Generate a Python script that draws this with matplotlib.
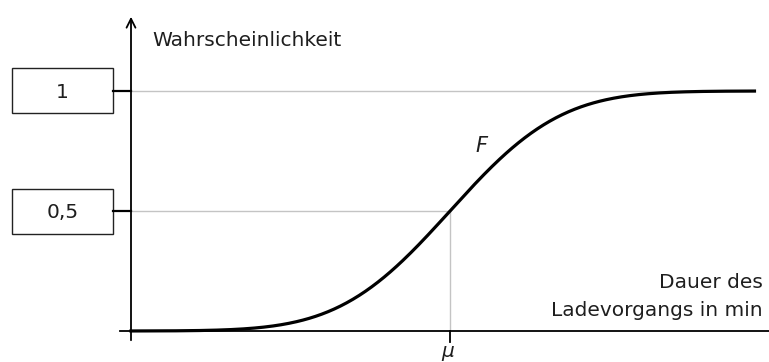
import math
import numpy as np
import matplotlib
matplotlib.use("Agg")
import matplotlib.pyplot as plt
from matplotlib.patches import Rectangle

# --- data ---
mu = 0.0
sigma = 1.0
x_start, x_end = -3.667, 3.5
y_ticks = [0.5, 1.0]
y_tick_labels = ["0,5", "1"]
y_label = "Wahrscheinlichkeit"
x_label_lines = ["Dauer des", "Ladevorgangs in min"]
curve_label = "F"
mu_label = "μ"

xs = np.linspace(x_start, x_end, 400)
ys = np.array([0.5 * (1 + math.erf((x - mu) / (sigma * math.sqrt(2)))) for x in xs])

plt.rcParams['font.family'] = ['DejaVu Sans']
FS = 14.5
TXT = '#1e1e1e'
W, H = 769, 362
fig = plt.figure(figsize=(W / 100, H / 100), dpi=100)
ax = fig.add_axes([131 / W, 31 / H, (W - 131) / W, (331 - 14) / H])
ax.set_xlim(-3.667, 3.667)
ax.set_ylim(0, (331 - 14) / 240)
ax.axis('off')


def ftext(px, py, s, **kw):
    """place text at pixel position (from top-left)"""
    fig.text(px / W, 1 - py / H, s, fontsize=kw.pop('fontsize', FS), color=TXT, **kw)


gray = '#c4c4c4'
ax.plot([-3.667, x_end], [1, 1], color=gray, lw=1.0, zorder=1)
ax.plot([-3.667, mu], [0.5, 0.5], color=gray, lw=1.0, zorder=1)
ax.plot([mu, mu], [0, 0.5], color=gray, lw=1.0, zorder=1)

ax.plot(xs, ys, color='black', lw=2.3, zorder=3, clip_on=False)

# axes
ax.plot([-3.667 - 11 / 87, 3.667], [0, 0], color='black', lw=1.3, clip_on=False, zorder=4)
ax.annotate('', xy=(-3.667, (331 - 14) / 240), xytext=(-3.667, -12 / 240),
            arrowprops=dict(arrowstyle='->', color='black', lw=1.3, mutation_scale=16),
            annotation_clip=False, zorder=4)
# tick at mu
ax.plot([mu, mu], [0, -11 / 240], color='black', lw=1.3, clip_on=False)

# y ticks with boxes
for v, lab in zip(y_ticks, y_tick_labels):
    ax.plot([-3.667 - 18 / 87, -3.667], [v, v], color='black', lw=1.6, clip_on=False)
    rect = Rectangle((-3.667 - 119 / 87, v - 22.5 / 240), 101 / 87, 45 / 240,
                     fill=False, edgecolor='#222222', lw=1.0, clip_on=False)
    ax.add_patch(rect)
    py = 331 - v * 240
    ftext(62.5, py + 7.3, lab, ha='center', va='baseline')

ftext(152, 46, y_label, ha='left', va='baseline')
ftext(763, 288.5, x_label_lines[0], ha='right', va='baseline')
ftext(763, 316.5, x_label_lines[1], ha='right', va='baseline')
ftext(481, 152.5, curve_label, ha='center', va='baseline', style='italic', fontsize=15)
ftext(448, 357, mu_label, ha='center', va='baseline', style='italic')

fig.savefig('out.png', dpi=100)
